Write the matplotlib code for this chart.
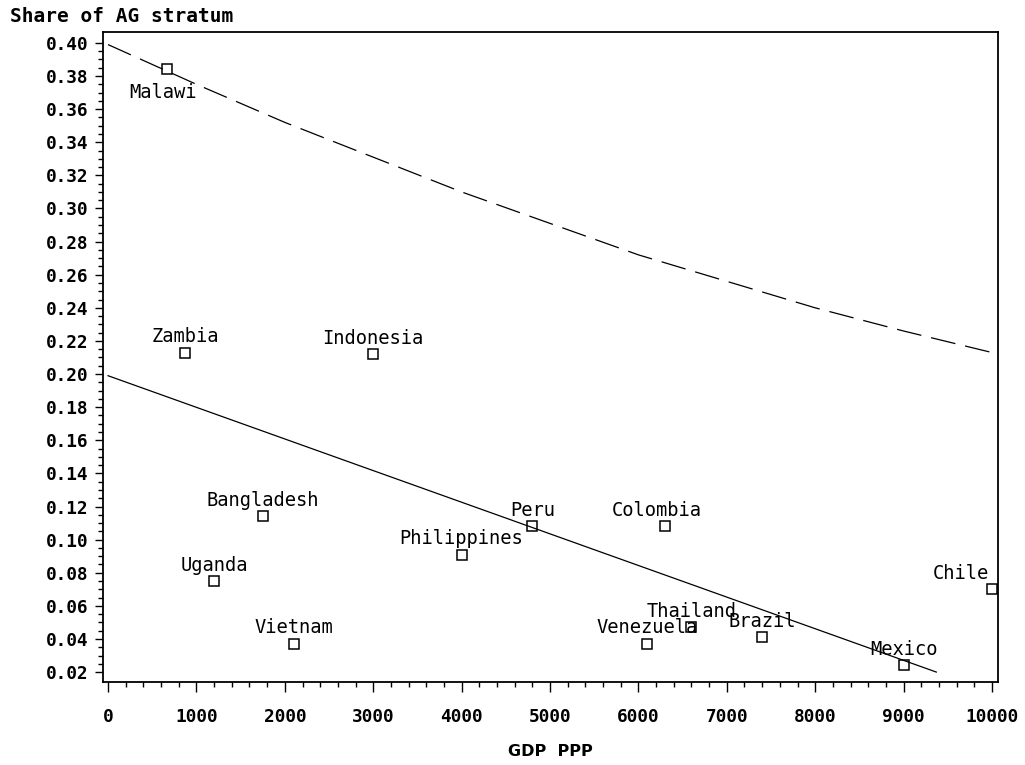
import matplotlib
matplotlib.use("Agg")
import matplotlib.pyplot as plt
import numpy as np
from matplotlib.ticker import MultipleLocator, FixedLocator, FormatStrFormatter

# points
countries = ["Malawi", "Zambia", "Indonesia", "Bangladesh", "Uganda", "Vietnam",
             "Philippines", "Peru", "Colombia", "Venezuela", "Thailand", "Brazil",
             "Mexico", "Chile"]
gdp = [670, 870, 3000, 1750, 1200, 2100, 4000, 4800, 6300, 6100, 6600, 7400, 9000, 10000]
share = [0.384, 0.213, 0.212, 0.114, 0.075, 0.037, 0.091, 0.108, 0.108, 0.037,
         0.047, 0.041, 0.024, 0.070]

# solid fitted line
fit_x = [0, 9370]
fit_y = [0.199, 0.020]

# dashed upper curve
upper_x = [0, 1000, 2000, 3000, 4000, 5000, 6000, 7000, 8000, 9000, 10000]
upper_y = [0.399, 0.375, 0.352, 0.331, 0.310, 0.291, 0.272, 0.256, 0.240, 0.226, 0.213]

# label offsets in pixels (default: centred above the point)
label_offset = {"Malawi": (-4, -23), "Chile": (-31, 16), "Colombia": (-8, 16)}

mono = "DejaVu Sans Mono"

fig = plt.figure(figsize=(10.25, 7.65), dpi=100)
ax = fig.add_axes([103 / 1025, 1 - 682 / 765, 895 / 1025, 650 / 765])

ax.plot(gdp, share, "s", mfc="none", mec="black", ms=7.2, mew=1.1)
ax.plot(fit_x, fit_y, "-", color="black", lw=0.9)
ax.plot(upper_x, upper_y, color="black", lw=0.9, dashes=(20, 8))

for name, x, y in zip(countries, gdp, share):
    dx, dy = label_offset.get(name, (0, 16))
    ax.annotate(name, (x, y), xytext=(dx, dy), textcoords="offset pixels",
                ha="center", va="center", family=mono, fontsize=13.5)

ax.set_xlim(-57, 10068)
ax.set_ylim(0.014, 0.4066)

ax.xaxis.set_major_locator(MultipleLocator(1000))
ax.xaxis.set_minor_locator(MultipleLocator(200))
ax.yaxis.set_major_locator(FixedLocator(np.arange(0.02, 0.4001, 0.02)))
ax.yaxis.set_minor_locator(FixedLocator(np.arange(0.02, 0.4001, 0.005)))
ax.yaxis.set_major_formatter(FormatStrFormatter("%.2f"))

ax.tick_params(axis="x", which="major", direction="out", length=7.2, width=1, pad=11.5)
ax.tick_params(axis="x", which="minor", direction="out", length=3.6, width=1)
ax.tick_params(axis="y", which="major", direction="out", length=5.8, width=1, pad=5)
ax.tick_params(axis="y", which="minor", direction="out", length=3.6, width=1)

for lab in ax.get_xticklabels() + ax.get_yticklabels():
    lab.set_family(mono)
    lab.set_fontweight("bold")
    lab.set_fontsize(12.8)

for sp in ax.spines.values():
    sp.set_linewidth(1.3)
    sp.set_color("black")

fig.text(10 / 1025, 1 - 17 / 765, "Share of AG stratum", ha="left", va="center",
         family=mono, fontweight="bold", fontsize=14)
fig.text(550 / 1025, 1 - 752 / 765, "GDP  PPP", ha="center", va="center",
         family="DejaVu Sans", fontweight="bold", fontsize=11.5)

fig.savefig("out.png", dpi=100)
